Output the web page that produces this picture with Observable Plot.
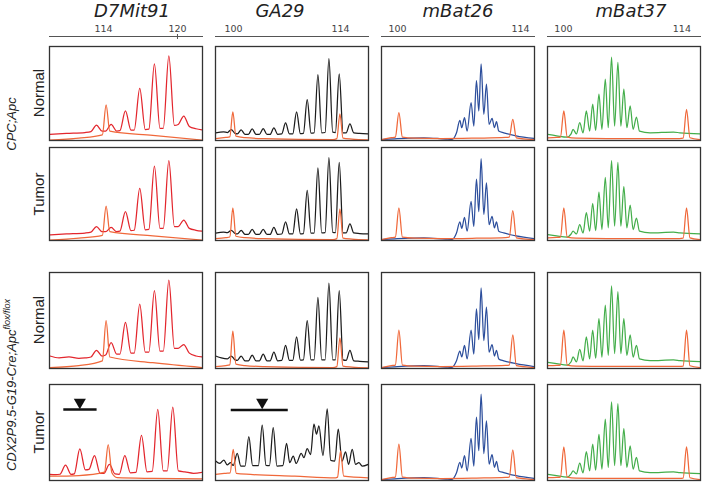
<!DOCTYPE html>
<html><head><meta charset="utf-8">
<script src="https://cdn.jsdelivr.net/npm/d3@7"></script>
<script src="https://cdn.jsdelivr.net/npm/@observablehq/plot@0.6"></script>
<style>
body{margin:0;background:#fff;}
#chart{position:relative;width:703px;height:482px;overflow:hidden;font-family:"Liberation Sans",Arial,sans-serif;color:#222;}
.abs{position:absolute;}
.title{font-family:"DejaVu Sans",Verdana,sans-serif;font-style:italic;font-size:18px;line-height:20px;text-align:center;width:160px;color:#222;}
.rowlab{font-size:15px;line-height:18px;height:18px;width:80px;text-align:center;transform:rotate(-90deg);}
.grplab{font-style:italic;font-size:13px;line-height:16px;height:16px;width:240px;text-align:center;transform:rotate(-90deg);white-space:nowrap;}
.grplab sup{font-size:9px;vertical-align:6px;line-height:0;}
</style>
</head><body><div id="chart"></div>
<script>
// ---------- labels ----------
const markers = ["D7Mit91", "GA29", "mBat26", "mBat37"];
const rowLabels = ["Normal", "Tumor", "Normal", "Tumor"];
const groupLabels = ["CPC;Apc", "CDX2P9.5-G19-Cre;Apc"];
const groupSuper = ["", "flox/flox"];
// size axis (bp) shown per marker
const xDomains = [[109.62, 122.03], [97.64, 117.66], [98.18, 115.6], [98.12, 116.2]];
const tickLabels = [[114, 120], [100, 114], [100, 114], [100, 114]];
const majorTicks = [[120], [], [], []];

// ---------- traces: [size (bp), relative fluorescence %] ----------
// D7Mit91
const c1r1 = [[109.65,6.4],[111.0,7.5],[112.5,8.5],[112.98,9.5],[113.43,16.4],[113.88,10],[114.17,10],[114.62,17.1],[115.07,10],[115.33,10.5],[115.78,31.4],[116.23,11],[116.49,11],[116.94,55.4],[117.39,11.5],[117.68,12],[118.13,81.4],[118.58,13],[118.85,13],[119.3,90],[119.75,16],[120.06,17],[120.51,26],[120.96,15],[121.5,12.5],[122.0,11.4]];
const l1r1 = [[109.65,0.5],[112.0,2.5],[113.91,6],[114.21,37.9],[114.51,10],[118.0,5.5],[122.0,0.5]];
const c1r2 = [[109.65,6],[111.0,7],[112.5,8],[112.98,9],[113.43,15],[113.88,9.5],[114.17,9.5],[114.62,14],[115.07,9.5],[115.33,10],[115.78,31],[116.23,10.5],[116.49,11],[116.94,56],[117.39,11.5],[117.68,12],[118.13,80],[118.58,13],[118.85,13],[119.3,86],[119.75,15],[120.06,15],[120.51,22],[120.96,13],[121.5,11],[122.0,10]];
const l1r2 = [[109.65,0.5],[112.0,2.5],[113.91,5.5],[114.21,37],[114.51,9.5],[118.0,5],[122.0,0.5]];
const c1r3 = [[109.65,13],[110.4,11],[111.2,12],[112.0,10.5],[112.5,11],[112.98,12],[113.43,19],[113.88,13],[114.17,14],[114.62,27],[115.07,15],[115.33,15],[115.78,48],[116.23,16],[116.49,16],[116.94,67],[117.39,17],[117.68,17],[118.13,81],[118.58,18],[118.85,18],[119.3,92],[119.75,21],[120.06,21],[120.51,25],[120.96,16],[121.5,13],[122.0,12]];
const l1r3 = [[109.65,1],[112.0,3],[113.91,8],[114.21,50],[114.51,12],[118.0,6],[122.0,1]];
const c1r4 = [[109.65,6.5],[110.1,6],[110.47,6.5],[110.92,16],[111.37,6.5],[111.63,7],[112.08,33],[112.53,11],[112.82,11.5],[113.27,26],[113.72,7.5],[114.03,7.3],[114.48,16.7],[114.93,7],[115.28,6.5],[115.73,26],[116.18,8],[116.63,8.5],[117.08,47],[117.53,9],[117.95,9.5],[118.4,74],[118.85,10],[119.17,10],[119.62,76.4],[120.07,10],[120.6,9],[121.3,7.5],[122.0,8.5]];
const l1r4 = [[109.65,4.5],[112.0,5.2],[114.08,8.7],[114.38,37.5],[114.68,8],[115.1,3],[118.0,2.2],[122.0,1.7]];
// GA29
const c2r1 = [[97.66,8.1],[98.7,9.2],[99.2,8.5],[99.7,11.7],[100.2,7.5],[100.5,7],[101.0,11.3],[101.5,6.6],[101.94,6.5],[102.44,12.4],[102.94,6.5],[103.38,6.5],[103.88,12.7],[104.38,6.5],[104.78,6.5],[105.28,13.4],[105.78,6.5],[106.31,7],[106.81,18.7],[107.31,7],[107.75,7],[108.25,30.4],[108.75,7.2],[109.14,7.5],[109.64,43.5],[110.14,7.8],[110.54,8],[111.04,70],[111.54,8.1],[111.98,8.5],[112.48,87],[112.98,8.8],[113.33,8.5],[113.83,71],[114.33,8.2],[114.73,8.1],[115.23,17.7],[115.73,8.1],[116.5,7.5],[117.64,7.1]];
const l2r1 = [[97.66,2.1],[99.0,3.2],[99.51,3.8],[99.91,30.4],[100.31,4.6],[101.5,3],[104.0,2],[113.0,1],[113.52,2],[113.92,28.3],[114.32,2.5],[115.5,1.5],[117.64,0.7]];
const c2r2 = [[97.66,8],[98.7,9],[99.2,8.5],[99.7,11],[100.2,7.5],[100.5,7],[101.0,11],[101.5,6.6],[101.94,6.5],[102.44,12],[102.94,6.5],[103.38,6.5],[103.88,12],[104.38,6.5],[104.78,6.5],[105.28,14],[105.78,6.5],[106.31,7],[106.81,20],[107.31,7],[107.75,7],[108.25,34],[108.75,7.2],[109.14,7.5],[109.64,54],[110.14,7.8],[110.54,8],[111.04,78],[111.54,8.1],[111.98,8.5],[112.48,89],[112.98,8.8],[113.33,8.5],[113.83,84],[114.33,8.2],[114.73,8.1],[115.23,18],[115.73,8.1],[116.5,7.5],[117.64,7]];
const l2r2 = [[97.66,2],[99.0,3],[99.51,3.8],[99.91,35],[100.31,4.6],[101.5,3],[104.0,2],[113.0,1],[113.52,2],[113.92,34],[114.32,2.5],[115.5,1.5],[117.64,0.7]];
const c2r3 = [[97.66,13],[98.4,11],[99.2,10],[99.7,13],[100.2,9],[100.5,8.5],[101.0,13],[101.5,8],[101.94,8],[102.44,14],[102.94,8],[103.38,8],[103.88,15],[104.38,8],[104.78,8],[105.28,17],[105.78,8],[106.31,8.5],[106.81,24],[107.31,8.5],[107.75,8.5],[108.25,33],[108.75,8.8],[109.14,9],[109.64,50],[110.14,9],[110.54,9],[111.04,74],[111.54,9],[111.98,9],[112.48,89],[112.98,9],[113.33,9],[113.83,81],[114.33,9],[114.73,8.5],[115.23,19],[115.73,8],[116.5,7.5],[117.64,7]];
const l2r3 = [[97.66,2],[99.0,3],[99.51,3.8],[99.91,39],[100.31,4.6],[101.5,3],[104.0,2],[113.0,1],[113.52,2],[113.92,32],[114.32,2.5],[115.5,1.5],[117.64,0.7]];
const c2r4 = [[97.66,20.3],[98.21,17.8],[98.74,21.3],[99.17,16.4],[99.61,18.5],[99.96,15.7],[100.48,28.3],[100.95,15],[101.5,15],[102.0,45.8],[102.5,15.5],[103.25,15.5],[103.75,57.7],[104.25,15.7],[104.7,15.5],[105.19,55.2],[105.68,15],[106.45,15.5],[106.94,38.8],[107.35,18.5],[107.81,25.5],[108.2,17.8],[108.86,28.3],[109.21,23.8],[109.64,33.2],[110.08,27],[110.52,58.7],[110.86,48.3],[111.17,57],[111.7,26],[112.26,74.5],[112.72,21],[113.25,20.3],[113.7,53.5],[114.2,20.3],[114.66,29.7],[115.05,16.8],[115.53,32.5],[115.97,16.8],[116.4,18.5],[116.84,15],[117.64,16.8]];
const l2r4 = [[97.66,6.3],[99.0,7.5],[99.56,8],[99.96,32.5],[100.36,7.3],[102.2,6.3],[108.0,4.5],[113.35,2.8],[113.61,3.5],[114.01,30.8],[114.41,4.5],[117.64,2.8]];
// mBat26
const c3r1 = [[98.2,1],[100.0,2],[103.0,2.9],[105.5,1.5],[106.22,1.2],[106.72,8.2],[107.1,21.4],[107.32,13.6],[107.63,24.3],[107.93,10],[108.38,40.4],[108.69,15.4],[108.99,63.6],[109.26,31.4],[109.52,81.4],[109.83,27.9],[110.13,60],[110.43,17.1],[110.77,23.6],[111.04,13.6],[111.27,20],[111.53,10],[112.1,8.2],[113.5,5],[115.58,2.1]];
const l3r1 = [[98.2,1],[99.3,3],[99.76,3.6],[100.16,29.6],[100.56,3.6],[102.0,2.5],[105.0,2],[109.0,2.5],[112.3,3.2],[112.73,3.6],[113.13,22.5],[113.53,2.9],[115.58,1]];
const c3r2 = [[98.2,1],[100.0,2],[103.0,2.9],[105.5,1.5],[106.22,1.2],[106.72,8],[107.1,20],[107.32,13],[107.63,25],[107.93,10],[108.38,42],[108.69,15],[108.99,66],[109.26,31],[109.52,88],[109.83,28],[110.13,62],[110.43,17],[110.77,26],[111.04,13.6],[111.27,20],[111.53,10],[112.1,8.2],[113.5,5],[115.58,2.1]];
const l3r2 = [[98.2,1],[99.3,3],[99.76,3.6],[100.16,35],[100.56,3.6],[102.0,2.5],[105.0,2],[109.0,2.5],[112.3,3.2],[112.73,3.6],[113.13,32],[113.53,2.9],[115.58,1]];
const c3r3 = [[98.2,1],[100.0,2],[103.0,2.9],[105.5,1.5],[106.22,1.2],[106.72,8],[107.1,18],[107.32,12],[107.63,24],[107.93,10],[108.38,40],[108.69,15],[108.99,62],[109.26,30],[109.52,84],[109.83,29],[110.13,64],[110.43,17],[110.77,25],[111.04,13],[111.27,19],[111.53,10],[112.1,8],[113.5,5],[115.58,2]];
const l3r3 = [[98.2,1],[99.3,3],[99.76,3.6],[100.16,40],[100.56,3.6],[102.0,2.5],[105.0,2],[109.0,2.5],[112.3,3.2],[112.73,3.6],[113.13,35],[113.53,2.9],[115.58,1]];
const c3r4 = [[98.2,1],[100.0,2],[103.0,2.9],[105.5,1.5],[106.22,1.2],[106.72,8],[107.1,19],[107.32,13],[107.63,26],[107.93,10],[108.38,44],[108.69,15],[108.99,66],[109.26,31],[109.52,90],[109.83,28],[110.13,62],[110.43,17],[110.77,27],[111.04,13.6],[111.27,20],[111.53,10],[112.1,8.2],[113.5,5],[115.58,2.1]];
const l3r4 = [[98.2,1],[99.3,3],[99.76,3.6],[100.16,38],[100.56,3.6],[102.0,2.5],[105.0,2],[109.0,2.5],[112.3,3.2],[112.73,3.6],[113.13,32],[113.53,2.9],[115.58,1]];
// mBat37
const c4r1 = [[98.16,6.4],[99.2,5],[100.44,3.6],[100.91,7.1],[101.14,11.8],[101.54,7.1],[101.93,18.9],[102.32,8.2],[102.71,31.4],[103.1,10],[103.46,38.6],[103.81,10.7],[104.2,49.3],[104.55,11.8],[104.95,65.4],[105.3,13.6],[105.69,88.6],[106.05,15.4],[106.44,83.2],[106.79,15.4],[107.14,54.6],[107.5,13.6],[107.89,36.8],[108.24,11.8],[108.63,25],[108.99,10],[110.24,8.2],[113.0,8.9],[113.77,8.2],[116.18,7.1]];
const l4r1 = [[98.16,2.9],[99.2,3.3],[99.65,3.6],[100.05,31.4],[100.45,3.6],[101.5,2.5],[105.14,2.1],[113.7,2.1],[114.15,2.5],[114.55,33.2],[114.95,2.9],[116.18,1]];
const c4r2 = [[98.16,6.4],[99.2,5],[100.44,3.6],[100.91,7],[101.14,10],[101.54,7],[101.93,17],[102.32,8],[102.71,30],[103.1,10],[103.46,40],[103.81,10.7],[104.2,52],[104.55,11.8],[104.95,68],[105.3,13.6],[105.69,86],[106.05,15.4],[106.44,84],[106.79,15.4],[107.14,58],[107.5,13.6],[107.89,38],[108.24,11.8],[108.63,24],[108.99,10],[110.24,8.2],[113.0,8.9],[113.77,8.2],[116.18,7.1]];
const l4r2 = [[98.16,2.9],[99.2,3.3],[99.65,3.6],[100.05,35],[100.45,3.6],[101.5,2.5],[105.14,2.1],[113.7,2.1],[114.15,2.5],[114.55,35],[114.95,2.9],[116.18,1]];
const c4r3 = [[98.16,6.4],[99.2,5],[100.44,3.6],[100.91,7],[101.14,12],[101.54,7],[101.93,20],[102.32,8],[102.71,33],[103.1,10],[103.46,40],[103.81,10.7],[104.2,52],[104.55,11.8],[104.95,66],[105.3,13.6],[105.69,86],[106.05,15.4],[106.44,80],[106.79,15.4],[107.14,52],[107.5,13.6],[107.89,35],[108.24,11.8],[108.63,24],[108.99,10],[110.24,8.2],[113.0,8.9],[113.77,8.2],[116.18,7.1]];
const l4r3 = [[98.16,2.9],[99.2,3.3],[99.65,3.6],[100.05,40],[100.45,3.6],[101.5,2.5],[105.14,2.1],[113.7,2.1],[114.15,2.5],[114.55,40],[114.95,2.9],[116.18,1]];
const c4r4 = [[98.16,6.4],[99.2,5],[100.44,3.6],[100.91,7],[101.14,10],[101.54,7],[101.93,18],[102.32,8],[102.71,30],[103.1,10],[103.46,38],[103.81,10.7],[104.2,48],[104.55,11.8],[104.95,64],[105.3,13.6],[105.69,82],[106.05,15.4],[106.44,80],[106.79,15.4],[107.14,54],[107.5,13.6],[107.89,36],[108.24,11.8],[108.63,24],[108.99,10],[110.24,8.2],[113.0,8.9],[113.77,8.2],[116.18,7.1]];
const l4r4 = [[98.16,2.9],[99.2,3.3],[99.65,3.6],[100.05,35],[100.45,3.6],[101.5,2.5],[105.14,2.1],[113.7,2.1],[114.15,2.5],[114.55,35],[114.95,2.9],[116.18,1]];

// deleted-allele annotations (Tumor, CDX2 row): bar span and arrowhead
const delBarD7 = [{x1: 110.78, x2: 113.48, y: 74}];
const delArrowD7 = [{x: 112.08, y: 81.6}];
const delBarGA = [{x1: 99.7, x2: 107.16, y: 73.4}];
const delArrowGA = [{x: 103.75, y: 81.5}];

// ---------- layout ----------
const traces = [[c1r1,c1r2,c1r3,c1r4],[c2r1,c2r2,c2r3,c2r4],[c3r1,c3r2,c3r3,c3r4],[c4r1,c4r2,c4r3,c4r4]];
const ladders = [[l1r1,l1r2,l1r3,l1r4],[l2r1,l2r2,l2r3,l2r4],[l3r1,l3r2,l3r3,l3r4],[l4r1,l4r2,l4r3,l4r4]];
const colColors = ["#e3262d", "#1c1c1c", "#2c4e9c", "#44ae4b"];
const ladderColor = "#f0683a";
const colLeft = [49, 215, 381, 547], colWidth = 153;
const colTitleX = [132, 280, 458, 631];
const rowTop = [46, 147, 272, 384], rowHeight = [94, 93, 96, 96];
const rowLabelY = [93, 193.5, 320, 432];
const groupY = [124, 385];

const chart = document.getElementById("chart");
function place(el, left, top) {
  el.style.position = "absolute"; el.style.left = left + "px"; el.style.top = top + "px";
  chart.appendChild(el); return el;
}
function div(cls, html, left, top) {
  const d = document.createElement("div"); d.className = "abs " + cls; d.innerHTML = html;
  return place(d, left, top);
}

// titles
markers.forEach((m, c) => div("title", m, colTitleX[c] - 80, 1));
// row labels
rowLabels.forEach((r, i) => div("rowlab", r, 38.5 - 40, rowLabelY[i] - 9));
// group labels
groupLabels.forEach((g, i) => div("grplab", g + (groupSuper[i] ? "<sup>" + groupSuper[i] + "</sup>" : ""), 12 - 120, groupY[i] - 8));

// size rulers above each column
markers.forEach((m, c) => {
  const marks = [
    Plot.frame({anchor: "top", stroke: "#555", strokeWidth: 1}),
    Plot.axisX(tickLabels[c], {anchor: "top", tickSize: 0, tickPadding: 5, fontSize: 9.5, fill: "#444", label: null})
  ];
  if (majorTicks[c].length) {
    marks.push(Plot.axisX(majorTicks[c], {anchor: "top", tickSize: 3, tickFormat: () => "", label: null, stroke: "#555"}));
    marks.push(Plot.axisX(majorTicks[c], {anchor: "bottom", tickSize: 2, tickFormat: () => "", label: null, stroke: "#555"}));
  }
  const p = Plot.plot({
    width: colWidth + 2, height: 28, marginLeft: 1, marginRight: 1, marginTop: 21, marginBottom: 6,
    x: {domain: xDomains[c]},
    style: {background: "transparent", overflow: "visible", fontFamily: "DejaVu Sans, Verdana, sans-serif"},
    marks
  });
  place(p, colLeft[c] - 1, 14.5);
});

// electropherogram panels
for (let c = 0; c < 4; c++) {
  for (let r = 0; r < 4; r++) {
    const marks = [
      Plot.line(traces[c][r], {x: d => d[0], y: d => d[1], stroke: colColors[c], strokeWidth: 1.25, curve: "monotone-x", clip: true}),
      Plot.line(ladders[c][r], {x: d => d[0], y: d => d[1], stroke: ladderColor, strokeWidth: 1.25, curve: "monotone-x", clip: true})
    ];
    if (r === 3 && c === 0) {
      marks.push(Plot.ruleY(delBarD7, {x1: "x1", x2: "x2", y: "y", stroke: "#111", strokeWidth: 2.5}));
      marks.push(Plot.dot(delArrowD7, {x: "x", y: "y", symbol: "triangle", rotate: 180, fill: "#111", stroke: "none", r: 4.5}));
    }
    if (r === 3 && c === 1) {
      marks.push(Plot.ruleY(delBarGA, {x1: "x1", x2: "x2", y: "y", stroke: "#111", strokeWidth: 2.5}));
      marks.push(Plot.dot(delArrowGA, {x: "x", y: "y", symbol: "triangle", rotate: 180, fill: "#111", stroke: "none", r: 4.5}));
    }
    marks.push(Plot.frame({stroke: "#333", strokeWidth: 1.3}));
    const p = Plot.plot({
      width: colWidth + 2, height: rowHeight[r] + 2, margin: 1,
      x: {domain: xDomains[c], axis: null},
      y: {domain: [0, 100], axis: null},
      style: {background: "transparent", overflow: "visible"},
      marks
    });
    place(p, colLeft[c] - 1, rowTop[r] - 1);
  }
}
</script>
</body></html>
